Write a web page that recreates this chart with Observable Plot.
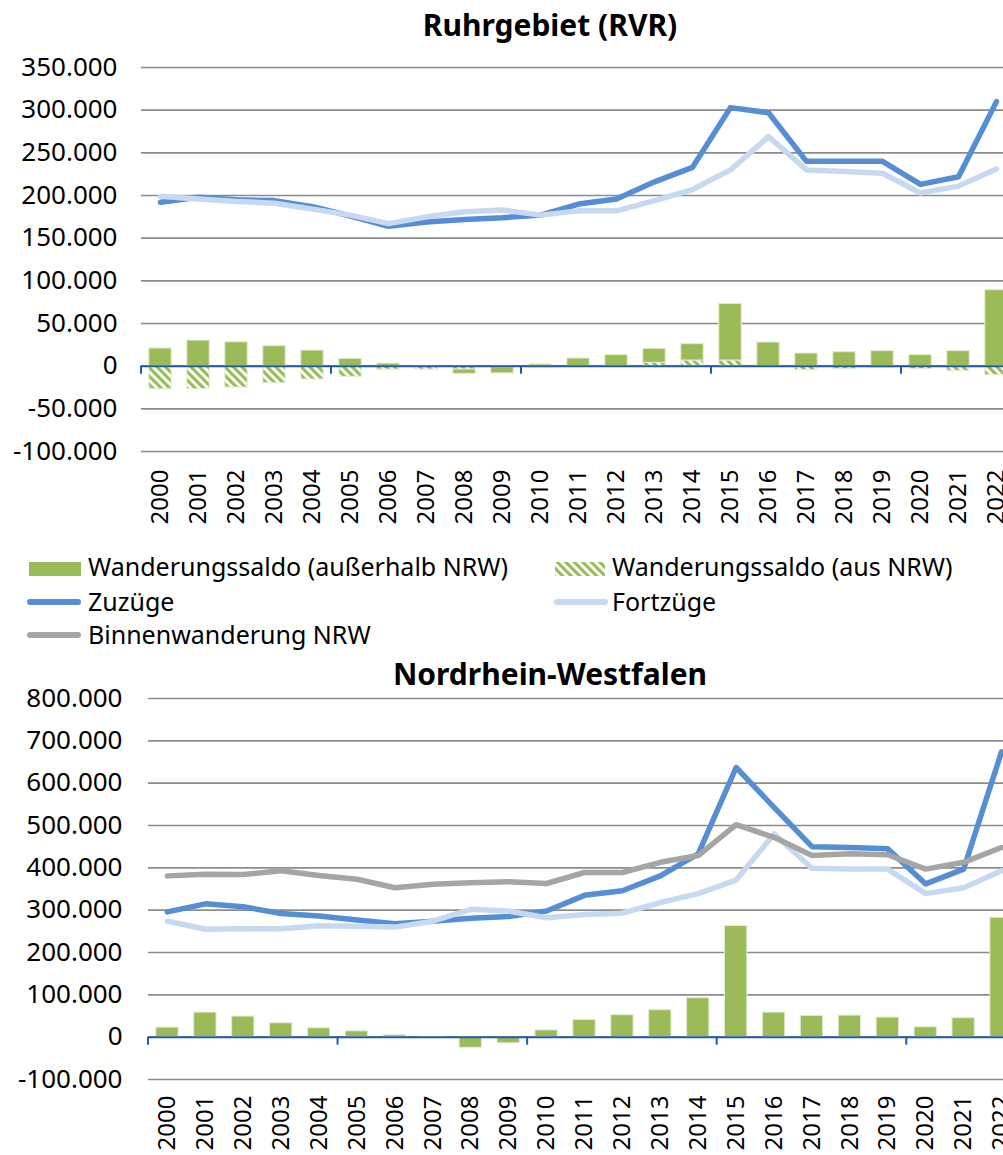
<!DOCTYPE html>
<html><head><meta charset="utf-8">
<script src="https://cdn.jsdelivr.net/npm/d3@7"></script>
<script src="https://cdn.jsdelivr.net/npm/@observablehq/plot@0.6"></script>
<style>
html,body{margin:0;padding:0;overflow:hidden;background:#fff;width:1003px;height:1155px;}
#root{position:relative;width:1003px;height:1155px;overflow:hidden;font-family:"Noto Sans",sans-serif;color:#000;}
.pl{position:absolute;left:0;}
.title{position:absolute;left:0;width:1100px;text-align:center;font-weight:bold;font-size:30px;line-height:36px;white-space:nowrap;}
.leg{position:absolute;font-size:25px;line-height:30px;white-space:nowrap;}
.sw{position:absolute;}
</style></head><body><div id="root"></div>
<script>
// ---------- data ----------
const years = [2000,2001,2002,2003,2004,2005,2006,2007,2008,2009,2010,2011,2012,2013,2014,2015,2016,2017,2018,2019,2020,2021,2022];

// Ruhrgebiet (RVR)
const rvrZuzuege   = [192000,198000,195000,194000,187000,176000,164000,169000,172000,174000,177000,190000,196000,216000,233000,303000,297000,240000,240000,240000,213000,222000,310000];
const rvrFortzuege = [199000,196000,193000,191000,184000,177000,167000,175000,181000,183000,177000,182000,182000,194000,207000,230000,269000,230000,228000,226000,203000,211000,231000];
const rvrSaldoAusserhalb = [20700,30000,28000,23400,18300,8600,3000,0,-5000,-7000,2000,9000,12900,16300,19200,66400,27700,14800,16400,17600,12900,17600,89000];
const rvrSaldoAusNRW     = [-27000,-27000,-25000,-20000,-15600,-12500,-4000,-4000,-4000,-1500,-1500,-1000,0,4000,6600,6600,0,-4700,-3500,-2000,-3500,-5500,-10500];

// Nordrhein-Westfalen
const nrwZuzuege   = [296000,315000,308000,292000,286000,277000,268000,274000,281000,285000,298000,335000,346000,381000,433000,637000,543000,450000,448000,445000,362000,397000,674000];
const nrwFortzuege = [274000,255000,256000,256000,263000,262000,260000,274000,302000,298000,282000,290000,293000,318000,339000,371000,480000,399000,397000,397000,339000,353000,393000];
const nrwBinnen    = [381000,385000,384000,393000,382000,373000,353000,361000,365000,367000,363000,389000,389000,413000,429000,502000,472000,429000,433000,431000,397000,413000,448000];
const nrwSaldoAusserhalb = [22600,58000,48700,32800,21000,13800,4400,500,-25000,-14600,16000,40800,51800,63700,92000,262400,58000,50300,51000,46300,23300,44700,282000];

const yTicksRvr = [-100000,-50000,0,50000,100000,150000,200000,250000,300000,350000];
const yTicksNrw = [-100000,0,100000,200000,300000,400000,500000,600000,700000,800000];
const xTickYears = [2000,2005,2010,2015,2020];

const titleRvr = "Ruhrgebiet (RVR)";
const titleNrw = "Nordrhein-Westfalen";
const legendLabels = ["Wanderungssaldo (außerhalb NRW)","Wanderungssaldo (aus NRW)","Zuzüge","Fortzüge","Binnenwanderung NRW"];

// ---------- style ----------
const GREEN = "#9BBB59", BLUE = "#558ED5", LIGHT = "#C6D9F1", GRAY = "#A5A5A5", AXIS = "#1F5CA8", GRID = "#8C8C8C";
const de = d3.formatLocale({decimal: ",", thousands: ".", grouping: [3], currency: ["", " €"], minus: "-"});
const fmt = de.format(",");

const root = document.getElementById("root");
const series = vals => years.map((year, i) => ({year, v: vals[i]}));

function addHatch(svg, id) {
  const defs = d3.select(svg).insert("defs", ":first-child");
  const p = defs.append("pattern").attr("id", id).attr("patternUnits", "userSpaceOnUse")
    .attr("width", 6).attr("height", 6).attr("patternTransform", "rotate(-45)");
  p.append("rect").attr("width", 6).attr("height", 6).attr("fill", "#fff");
  p.append("rect").attr("width", 3.2).attr("height", 6).attr("fill", GREEN);
}

function tickMark(index, scales) {
  const g = d3.create("svg:g");
  for (const t of xTickYears) {
    g.append("line").attr("x1", scales.x(t)).attr("x2", scales.x(t))
      .attr("y1", scales.y(0)).attr("y2", scales.y(0) + 8)
      .attr("stroke", AXIS).attr("stroke-width", 2);
  }
  return g.node();
}

function chart({width, height, top, mTop, mBottom, mLeft, mRight, yDomain, yTicks, pad, bars, lines, labelDy, hatchId}) {
  const svg = Plot.plot({
    width, height, marginTop: mTop, marginBottom: mBottom, marginLeft: mLeft, marginRight: mRight,
    x: {domain: [2000, 2023], axis: null},
    y: {domain: yDomain, axis: null, label: null},
    color: {type: "identity"},
    style: {fontFamily: "Noto Sans", fontSize: "26px", color: "#000", background: "#fff", maxWidth: "none"},
    marks: [
      Plot.gridY(yTicks, {stroke: GRID, strokeOpacity: 1, strokeWidth: 1.6}),
      Plot.axisY(yTicks, {tickSize: 0, tickPadding: pad, tickFormat: fmt, fontSize: 26, label: null, fill: "#000"}),
      Plot.rectY(bars, {x: "year", interval: 1, y: "v", fill: "fill", insetLeft: 7.8, insetRight: 7.8, stroke: "#e3ebd3", strokeWidth: 1}),
      Plot.ruleY([0], {stroke: AXIS, strokeWidth: 2}),
      tickMark,
      ...lines.map(([vals, color]) => Plot.line(series(vals), {x: d => d.year + 0.5, y: "v", stroke: color, strokeWidth: 5.5, strokeLinecap: "round", strokeLinejoin: "round"})),
      Plot.text(years, {x: d => d + 0.5, y: yDomain[0], dy: labelDy, rotate: -90, textAnchor: "end", text: d => String(d), fontSize: 24, fill: "#000"})
    ]
  });
  if (hatchId) addHatch(svg, hatchId);
  svg.classList.add("pl");
  svg.style.top = top + "px";
  root.appendChild(svg);
}

// top chart
const rvrBars = [
  ...years.map((year, i) => ({year, v: rvrSaldoAusNRW[i], fill: "url(#hatchRvr)"})),
  ...years.map((year, i) => ({year, v: rvrSaldoAusserhalb[i], fill: GREEN}))
].filter(d => d.v !== 0);
chart({width: 1030, height: 535, top: 0, mTop: 67, mBottom: 535 - 451, mLeft: 141, mRight: 15,
  yDomain: [-100000, 350000], yTicks: yTicksRvr, pad: 24, bars: rvrBars,
  lines: [[rvrZuzuege, BLUE], [rvrFortzuege, LIGHT]], labelDy: 18, hatchId: "hatchRvr"});

// bottom chart
const nrwBars = years.map((year, i) => ({year, v: nrwSaldoAusserhalb[i], fill: GREEN})).filter(d => d.v !== 0);
chart({width: 1040, height: 520, top: 640, mTop: 58, mBottom: 520 - 439, mLeft: 148, mRight: 20,
  yDomain: [-100000, 800000], yTicks: yTicksNrw, pad: 26, bars: nrwBars,
  lines: [[nrwZuzuege, BLUE], [nrwFortzuege, LIGHT], [nrwBinnen, GRAY]], labelDy: 16});

// titles
function title(text, top) {
  const d = document.createElement("div");
  d.className = "title"; d.textContent = text; d.style.top = top + "px";
  root.appendChild(d);
}
title(titleRvr, 7);
title(titleNrw, 656);

// legend
const legend = document.createElement("div");
legend.style.cssText = "position:absolute;left:0;top:0;width:1003px;height:0;";
root.appendChild(legend);
function legText(text, x, cy) {
  const d = document.createElement("div");
  d.className = "leg"; d.textContent = text;
  d.style.left = x + "px"; d.style.top = (cy - 16) + "px";
  legend.appendChild(d);
}
function legSwatch(html, x, cy, w, h) {
  const s = document.createElement("div");
  s.className = "sw"; s.style.left = x + "px"; s.style.top = (cy - h / 2) + "px";
  s.innerHTML = `<svg width="${w}" height="${h}" style="display:block">${html}</svg>`;
  legend.appendChild(s);
}
const r1 = 567, r2 = 602, r3 = 635;
legSwatch(`<rect x="0" y="0" width="52" height="14" fill="${GREEN}"/>`, 29, r1 + 2, 52, 14);
legText(legendLabels[0], 88, r1);
legSwatch(`<defs><pattern id="hatchL" patternUnits="userSpaceOnUse" width="6" height="6" patternTransform="rotate(-45)"><rect width="6" height="6" fill="#fff"/><rect width="3.2" height="6" fill="${GREEN}"/></pattern></defs><rect x="0" y="0" width="50" height="14" fill="url(#hatchL)"/>`, 555, r1 + 2, 50, 14);
legText(legendLabels[1], 612, r1);
legSwatch(`<line x1="4" y1="5" x2="52" y2="5" stroke="${BLUE}" stroke-width="6" stroke-linecap="round"/>`, 26, r2, 58, 10);
legText(legendLabels[2], 88, r2);
legSwatch(`<line x1="4" y1="5" x2="52" y2="5" stroke="${LIGHT}" stroke-width="6" stroke-linecap="round"/>`, 553, r2, 58, 10);
legText(legendLabels[3], 612, r2);
legSwatch(`<line x1="4" y1="5" x2="52" y2="5" stroke="${GRAY}" stroke-width="6" stroke-linecap="round"/>`, 26, r3, 58, 10);
legText(legendLabels[4], 88, r3);
</script></body></html>
